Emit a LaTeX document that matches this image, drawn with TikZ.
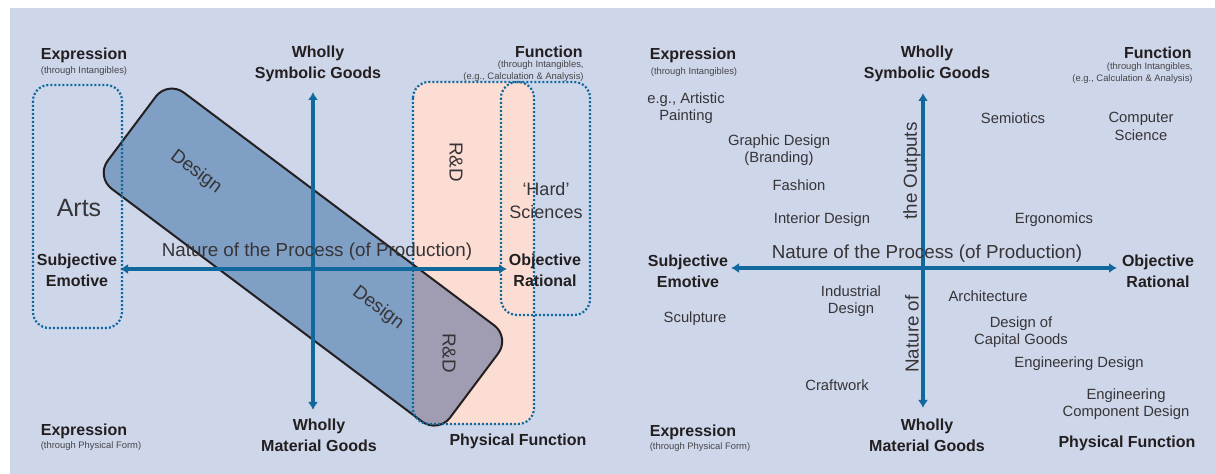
\documentclass[tikz,border=0pt]{standalone}
\usepackage{fontspec}
\setmainfont{Liberation Sans}
\usetikzlibrary{arrows.meta}

\definecolor{panel}{RGB}{206,214,234}
\definecolor{axisblue}{RGB}{16,104,156}
\definecolor{designblue}{RGB}{127,160,196}
\definecolor{overlapgray}{RGB}{160,156,178}
\definecolor{rdpink}{RGB}{252,221,211}
\definecolor{ink}{RGB}{35,31,32}
\definecolor{textgray}{RGB}{55,52,55}
\definecolor{notegray}{RGB}{70,70,72}

\begin{document}
\begin{tikzpicture}[x=0.5pt,y=-0.5pt,
  labelbold/.style={font=\bfseries\fontsize{8}{10.5}\selectfont, text=ink, align=center, inner sep=0pt, yshift=-1pt},
  subnote/.style={font=\fontsize{4.7}{5.6}\selectfont, text=notegray, inner sep=0pt, yshift=-0.8pt},
  itemtext/.style={font=\fontsize{7.4}{8.6}\selectfont, text=textgray, align=center, inner sep=0pt, yshift=-1pt},
  axistext/.style={font=\fontsize{9.4}{11.5}\selectfont, text=textgray, align=center, inner sep=0pt},
  dotbox/.style={draw=axisblue, line width=1.1pt, dash pattern=on 1pt off 1pt, rounded corners=8pt},
  axisline/.style={draw=axisblue, line width=1.6pt,
    {Latex[length=4pt,width=5pt]}-{Latex[length=4pt,width=5pt]}},
  designedge/.style={draw=ink, line width=1pt, rounded corners=10pt}
]
\useasboundingbox (0,0) rectangle (1215,474);
\fill[panel] (10,8) rectangle (1215,474);

% ---------------- left map: overlapping fields ----------------
% corners of the tilted Design band
\coordinate (dM)  at (131.75,128.7);
\coordinate (dTL) at (167.8,80.6);
\coordinate (dTR) at (510.2,337.4);
\coordinate (dBR) at (438.1,433.6);
\coordinate (dBL) at (95.7,176.8);

% R&D field
\fill[rdpink, rounded corners=8pt] (413,82) rectangle (534,424);

% Design band and its overlap with R&D
\fill[designblue, rounded corners=10pt] (dM) -- (dTL) -- (dTR) -- (dBR) -- (dBL) -- cycle;
\begin{scope}
  \clip[rounded corners=8pt] (413,82) rectangle (534,424);
  \fill[overlapgray, rounded corners=10pt] (dM) -- (dTL) -- (dTR) -- (dBR) -- (dBL) -- cycle;
\end{scope}
\draw[designedge] (dM) -- (dTL) -- (dTR) -- (dBR) -- (dBL) -- cycle;

% dotted field outlines
\draw[dotbox] (33,85) rectangle (122,328);
\draw[dotbox] (413,82) rectangle (534,424);
\draw[dotbox] (501,82) rectangle (590,315);

% axes
\coordinate (lN) at (313,92);
\coordinate (lS) at (313,410);
\coordinate (lW) at (120,269);
\coordinate (lE) at (507,269);
\draw[axisline] (lW) -- (lE);
\draw[axisline] (lS) -- (lN);

% field names
\node[axistext, font=\fontsize{12.5}{14}\selectfont] (arts) at (79,208) {Arts};
\node[axistext, font=\fontsize{9}{11.5}\selectfont] (hard) at (546,201) {‘Hard’\\Sciences};
\node[axistext, rotate=-36.87] (designA) at (196,172) {Design};
\node[axistext, rotate=-36.87] (designB) at (378,308) {Design};
\node[axistext, rotate=-90] (rdA) at (456,162) {R\&D};
\node[axistext, rotate=-90] (rdB) at (449,353) {R\&D};
\node[axistext] (procL) at (317,252) {Nature of the Process (of Production)};

% corner and axis labels
\node[labelbold] (expTL) at (84,53) {Expression};
\node[subnote] (expTLs) at (84,69) {(through Intangibles)};
\node[labelbold] (symL) at (318,62) {Wholly\\Symbolic Goods};
\node[labelbold, anchor=east] (funL) at (583,50) {Function};
\node[subnote, align=right, anchor=east] (funLs) at (584,69.5) {(through Intangibles,\\(e.g., Calculation \& Analysis)};
\node[labelbold] (subjL) at (77,268) {Subjective\\Emotive};
\node[labelbold] (objL) at (545,268) {Objective\\Rational};
\node[labelbold] (expBL) at (84,429) {Expression};
\node[subnote] (expBLs) at (91,444) {(through Physical Form)};
\node[labelbold] (matL) at (319,433) {Wholly\\Material Goods};
\node[labelbold] (phyL) at (518,439) {Physical Function};

% ---------------- right map: placed disciplines ----------------
\coordinate (rN) at (923,93);
\coordinate (rS) at (923,408);
\coordinate (rW) at (731,268);
\coordinate (rE) at (1117,268);
\draw[axisline] (rW) -- (rE);
\draw[axisline] (rS) -- (rN);

\node[axistext] (procR) at (927,254) {Nature of the Process (of Production)};
\node[axistext, rotate=90] (outA) at (912,171) {the Outputs};
\node[axistext, rotate=90] (outB) at (912,334) {Nature of};

\node[labelbold] (expTR) at (693,53) {Expression};
\node[subnote] (expTRs) at (694,70) {(through Intangibles)};
\node[labelbold] (symR) at (927,62) {Wholly\\Symbolic Goods};
\node[labelbold, anchor=east] (funR) at (1192,51) {Function};
\node[subnote, align=right, anchor=east] (funRs) at (1193,71.5) {(through Intangibles,\\(e.g., Calculation \& Analysis)};
\node[labelbold] (subjR) at (688,269) {Subjective\\Emotive};
\node[labelbold] (objR) at (1158,269) {Objective\\Rational};
\node[labelbold] (expBR) at (693,430) {Expression};
\node[subnote] (expBRs) at (700,445) {(through Physical Form)};
\node[labelbold] (matR) at (927,433) {Wholly\\Material Goods};
\node[labelbold] (phyR) at (1127,441) {Physical Function};

\node[itemtext] (paint) at (686,106) {e.g., Artistic\\Painting};
\node[itemtext] (graph) at (779,148) {Graphic Design\\(Branding)};
\node[itemtext] (fash) at (799,183) {Fashion};
\node[itemtext] (inter) at (822,218) {Interior Design};
\node[itemtext] (semi) at (1013,116) {Semiotics};
\node[itemtext] (comp) at (1141,124.5) {Computer\\Science};
\node[itemtext] (ergo) at (1054,218) {Ergonomics};
\node[itemtext] (indu) at (851,299) {Industrial\\Design};
\node[itemtext] (sculp) at (695,317) {Sculpture};
\node[itemtext] (craft) at (837,383) {Craftwork};
\node[itemtext] (arch) at (988,294) {Architecture};
\node[itemtext] (capg) at (1021,330) {Design of\\Capital Goods};
\node[itemtext] (engd) at (1079,362) {Engineering Design};
\node[itemtext] (engc) at (1126,402) {Engineering\\Component Design};
\end{tikzpicture}
\end{document}
